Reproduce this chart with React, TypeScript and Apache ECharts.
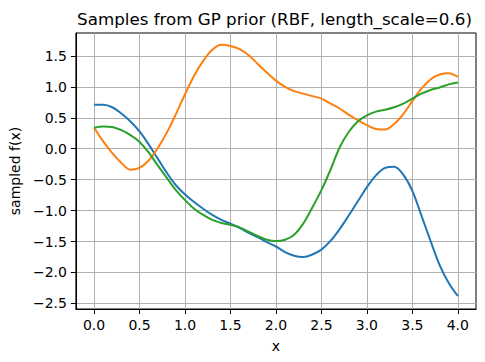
import React, { useEffect, useRef } from "react";
import * as echarts from "echarts";

const xs = [0.0, 0.1, 0.2, 0.3, 0.4, 0.5, 0.6, 0.7, 0.8, 0.9, 1.0, 1.1, 1.2, 1.3, 1.4, 1.5, 1.6, 1.7, 1.8, 1.9, 2.0, 2.1, 2.2, 2.3, 2.4, 2.5, 2.6, 2.7, 2.8, 2.9, 3.0, 3.1, 3.2, 3.3, 3.4, 3.5, 3.6, 3.7, 3.8, 3.9, 4.0];

const sample1 = [0.71, 0.71, 0.67, 0.57, 0.44, 0.28, 0.07, -0.16, -0.39, -0.59, -0.74, -0.86, -0.97, -1.07, -1.15, -1.21, -1.28, -1.36, -1.43, -1.51, -1.58, -1.67, -1.73, -1.75, -1.71, -1.63, -1.49, -1.30, -1.08, -0.85, -0.62, -0.43, -0.31, -0.29, -0.42, -0.68, -1.08, -1.49, -1.88, -2.17, -2.38];

const sample2 = [0.34, 0.12, -0.07, -0.23, -0.34, -0.31, -0.19, 0.01, 0.26, 0.56, 0.88, 1.18, 1.42, 1.60, 1.68, 1.66, 1.61, 1.51, 1.37, 1.23, 1.10, 1.00, 0.93, 0.89, 0.85, 0.81, 0.73, 0.65, 0.55, 0.46, 0.38, 0.32, 0.31, 0.40, 0.56, 0.77, 0.97, 1.12, 1.20, 1.22, 1.16];

const sample3 = [0.34, 0.36, 0.35, 0.30, 0.22, 0.11, -0.06, -0.27, -0.47, -0.67, -0.83, -0.97, -1.07, -1.15, -1.20, -1.23, -1.27, -1.34, -1.41, -1.47, -1.49, -1.47, -1.39, -1.21, -0.95, -0.67, -0.34, 0.02, 0.27, 0.44, 0.54, 0.60, 0.63, 0.67, 0.73, 0.81, 0.89, 0.95, 0.99, 1.04, 1.07];

const xTicks = [0.0, 0.5, 1.0, 1.5, 2.0, 2.5, 3.0, 3.5, 4.0];
const yTicks = [-2.5, -2.0, -1.5, -1.0, -0.5, 0.0, 0.5, 1.0, 1.5];

const colors = ["#1f77b4", "#ff7f0e", "#2ca02c"];
const FONT = "DejaVu Sans";
const TITLE = "Samples from GP prior (RBF, length_scale=0.6)";

const fmt = (v: number) => v.toFixed(1).replace("-", "\u2212");

export default function App() {
  const ref = useRef<HTMLDivElement>(null);
  useEffect(() => {
    if (!ref.current) return;
    const chart = echarts.init(ref.current, undefined, { renderer: "svg" });
    const mk = (ys: number[], i: number) => ({
      type: "line",
      data: xs.map((x, k) => [x, ys[k]]),
      showSymbol: false,
      smooth: 0.35,
      lineStyle: { color: colors[i], width: 2 },
      itemStyle: { color: colors[i] },
      z: 2 + i,
    });
    const axisCommon = {
      axisLine: { show: true, onZero: false, lineStyle: { color: "#000", width: 1 } },
      splitLine: { show: true, lineStyle: { color: "#b0b0b0", width: 1 } },
    };
    chart.setOption({
      animation: false,
      backgroundColor: "#fff",
      graphic: [
        {
          type: "text",
          x: 274.5,
          y: 19,
          style: {
            text: TITLE,
            fontFamily: FONT,
            fontSize: 16.7,
            fill: "#000",
            align: "center",
            verticalAlign: "middle",
          },
        },
      ],
      grid: { left: 73, right: 9, top: 33, bottom: 53, containLabel: false, show: true, borderColor: "#000", borderWidth: 1 },
      xAxis: {
        type: "value",
        min: -0.2,
        max: 4.2,
        name: "x",
        nameLocation: "middle",
        nameGap: 30,
        nameTextStyle: { fontFamily: FONT, fontSize: 14, color: "#000", verticalAlign: "top" },
        ...axisCommon,
        axisTick: { show: true, inside: false, length: 5, customValues: xTicks, lineStyle: { color: "#000" } },
        axisLabel: { customValues: xTicks, formatter: fmt, margin: 9, fontFamily: FONT, fontSize: 14, color: "#000" },
      },
      yAxis: {
        type: "value",
        min: -2.59,
        max: 1.87,
        name: "sampled f(x)",
        nameLocation: "middle",
        nameGap: 48,
        nameRotate: 90,
        nameTextStyle: { fontFamily: FONT, fontSize: 14, color: "#000" },
        ...axisCommon,
        axisTick: { show: true, inside: false, length: 5, customValues: yTicks, lineStyle: { color: "#000" } },
        axisLabel: { customValues: yTicks, formatter: fmt, margin: 9, fontFamily: FONT, fontSize: 14, color: "#000" },
      },
      series: [mk(sample1, 0), mk(sample2, 1), mk(sample3, 2)],
    });
    return () => chart.dispose();
  }, []);
  return <div ref={ref} style={{ position: "fixed", left: 0, top: 0, width: 485, height: 362 }} />;
}
